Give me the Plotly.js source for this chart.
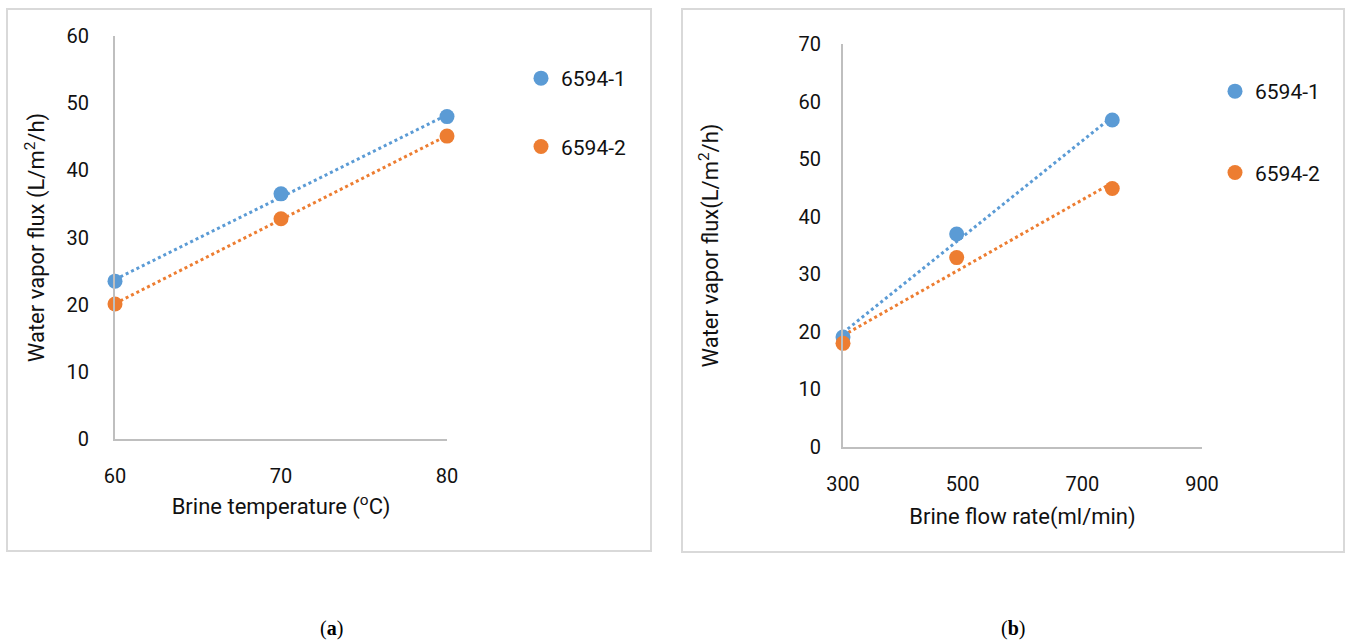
<!DOCTYPE html>
<html>
<head>
<meta charset="utf-8">
<script src="https://cdn.plot.ly/plotly-3.0.1.min.js"></script>
<style>html,body{margin:0;padding:0;background:#fff}#chart{width:1347px;height:642px}</style>
</head>
<body>
<div id="chart"></div>
<script>
// Panel (a): brine temperature
const tempX = [60, 70, 80];
const tempS1 = [23.5, 36.5, 48.0];
const tempS2 = [20.1, 32.8, 45.1];
// Panel (b): brine flow rate
const flowX = [300, 490, 750];
const flowS1 = [19.1, 37.0, 56.8];
const flowS2 = [18.0, 32.9, 44.9];
const seriesNames = ['6594-1', '6594-2'];
const colors = ['#5b9bd5', '#ed7d31'];

// least-squares linear trendline (as in the original spreadsheet chart)
function trend(xs, ys) {
  const n = xs.length;
  const mx = xs.reduce((a, b) => a + b, 0) / n;
  const my = ys.reduce((a, b) => a + b, 0) / n;
  let sxy = 0, sxx = 0;
  for (let i = 0; i < n; i++) { sxy += (xs[i] - mx) * (ys[i] - my); sxx += (xs[i] - mx) ** 2; }
  const b = sxy / sxx, a = my - b * mx;
  const x0 = Math.min(...xs), x1 = Math.max(...xs);
  return { x: [x0, x1], y: [a + b * x0, a + b * x1] };
}

const FONT = 'Roboto, "Liberation Sans", sans-serif';
const traces = [];
function addPanel(xs, s1, s2, xa, ya, leg) {
  [s1, s2].forEach((ys, i) => {
    const t = trend(xs, ys);
    traces.push({ x: t.x, y: t.y, xaxis: xa, yaxis: ya, mode: 'lines', showlegend: false,
      line: { color: colors[i], width: 3, dash: 'dot' }, hoverinfo: 'skip' });
  });
  [s1, s2].forEach((ys, i) => {
    traces.push({ x: xs, y: ys, xaxis: xa, yaxis: ya, mode: 'markers', name: seriesNames[i],
      legend: leg, legendgroup: leg + i, cliponaxis: false,
      marker: { color: colors[i], size: 15 } });
  });
}
addPanel(tempX, tempS1, tempS2, 'x', 'y', 'legend');
addPanel(flowX, flowS1, flowS2, 'x2', 'y2', 'legend2');

const W = 1347, H = 642;
const px = v => v / W, py = v => 1 - v / H;
const TXT = '#111';
const axisCommon = {
  showgrid: false, zeroline: false, showline: true, linecolor: '#bfbfbf', linewidth: 2,
  ticks: '', tickfont: { family: FONT, size: 20, color: TXT }, automargin: false
};
const titleFont = { family: FONT, size: 22, color: TXT };

const layout = {
  width: W, height: H, margin: { l: 0, r: 0, t: 0, b: 0 },
  paper_bgcolor: '#fff', plot_bgcolor: 'rgba(0,0,0,0)', showlegend: true,
  xaxis: Object.assign({}, axisCommon, { domain: [px(115), px(447)], range: [60, 80], tickvals: [60, 70, 80],
    ticklabelstandoff: 18, anchor: 'y', title: { text: 'Brine temperature (<sup>o</sup>C)', font: titleFont, standoff: 12 } }),
  yaxis: Object.assign({}, axisCommon, { domain: [py(439), py(36)], range: [0, 60], dtick: 10,
    ticklabelstandoff: 20, anchor: 'x', title: { text: 'Water vapor flux (L/m<sup>2</sup>/h)', font: titleFont, standoff: 16 } }),
  xaxis2: Object.assign({}, axisCommon, { domain: [px(843), px(1202)], range: [300, 900], tickvals: [300, 500, 700, 900],
    ticklabelstandoff: 18, anchor: 'y2', title: { text: 'Brine flow rate(ml/min)', font: titleFont, standoff: 14 } }),
  yaxis2: Object.assign({}, axisCommon, { domain: [py(447), py(44)], range: [0, 70], dtick: 10,
    ticklabelstandoff: 16, anchor: 'x2', title: { text: 'Water vapor flux(L/m<sup>2</sup>/h)', font: titleFont, standoff: 74 } }),
  legend: { x: px(521), y: py(58), xanchor: 'left', yanchor: 'top', traceorder: 'grouped', tracegroupgap: 38,
    font: { family: FONT, size: 21, color: TXT }, bgcolor: 'rgba(0,0,0,0)', itemwidth: 30 },
  legend2: { x: px(1215), y: py(71), xanchor: 'left', yanchor: 'top', traceorder: 'grouped', tracegroupgap: 51,
    font: { family: FONT, size: 21, color: TXT }, bgcolor: 'rgba(0,0,0,0)', itemwidth: 30 },
  shapes: [
    { type: 'rect', xref: 'paper', yref: 'paper', x0: px(7), x1: px(651), y0: py(551), y1: py(9),
      line: { color: '#d9d9d9', width: 2 } },
    { type: 'rect', xref: 'paper', yref: 'paper', x0: px(682), x1: px(1344), y0: py(552), y1: py(9),
      line: { color: '#d9d9d9', width: 2 } }
  ],
  annotations: [
    { text: '(<b>a</b>)', xref: 'paper', yref: 'paper', x: px(331), y: py(628), xanchor: 'center', yanchor: 'middle',
      showarrow: false, font: { family: '"Liberation Serif", serif', size: 20, color: '#000' } },
    { text: '(<b>b</b>)', xref: 'paper', yref: 'paper', x: px(1013), y: py(628), xanchor: 'center', yanchor: 'middle',
      showarrow: false, font: { family: '"Liberation Serif", serif', size: 20, color: '#000' } }
  ]
};

Plotly.newPlot('chart', traces, layout, { displayModeBar: false, staticPlot: true });
</script>
</body>
</html>
